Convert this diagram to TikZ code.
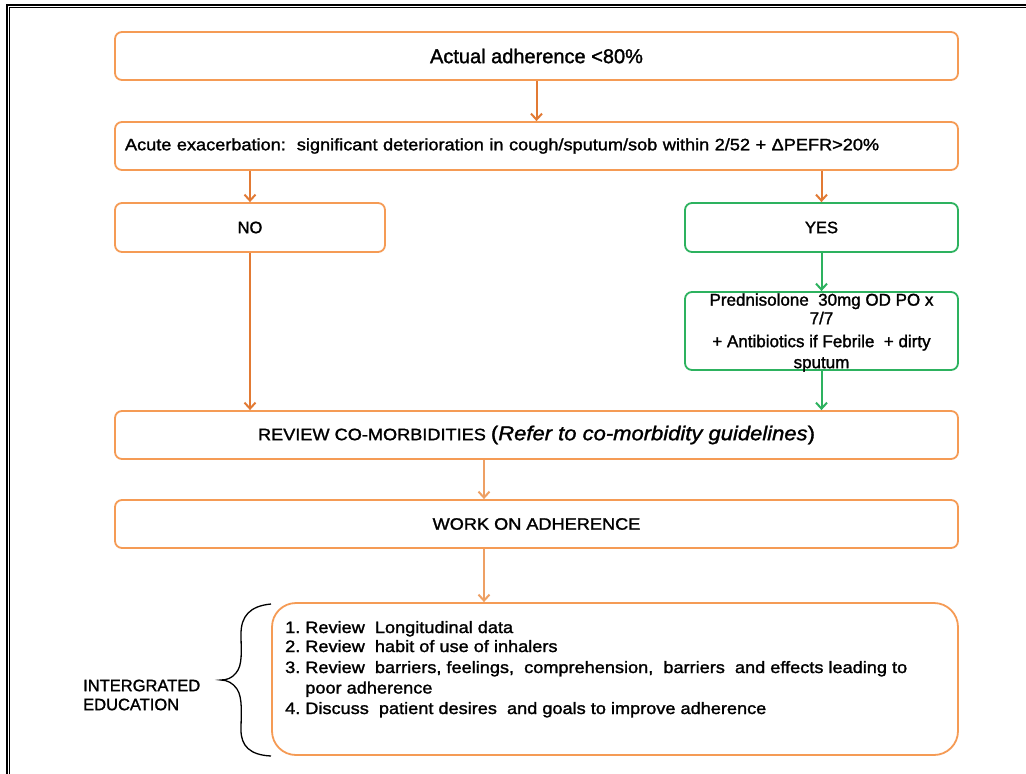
\documentclass[tikz,border=0pt]{standalone}
\usepackage{fontspec}
\setmainfont{Liberation Sans}
\newfontfamily\flowfont{Liberation Sans}[FakeBold=1.5]
\newfontfamily\flowwide{Liberation Sans}[FakeBold=1.5,FakeStretch=1.1]
\usetikzlibrary{arrows.meta}
\definecolor{boxorange}{RGB}{245,155,85}
\definecolor{arroworange}{RGB}{226,122,52}
\definecolor{lightarrow}{RGB}{238,160,100}
\definecolor{flowgreen}{RGB}{45,178,95}
\tikzset{
  x=1pt, y=-1pt,
  obox/.style={draw=boxorange, line width=1.8pt, rounded corners=7pt, fill=white,
    inner sep=0pt, font=\flowfont\fontsize{16.5}{19}\selectfont},
  gbox/.style={obox, draw=flowgreen},
  oarrow/.style={draw=arroworange, line width=2pt, -{Straight Barb[length=6pt,width=11pt]}},
  larrow/.style={oarrow, draw=lightarrow},
  garrow/.style={oarrow, draw=flowgreen},
  bodytext/.style={inner sep=0pt, font=\flowfont\fontsize{16.5}{19}\selectfont}
}
\begin{document}
\begin{tikzpicture}
\useasboundingbox (0,0) rectangle (1026,774);
\fill[white] (0,0) rectangle (1026,774);

% double frame along the top and left edges
\draw[line width=2.4pt] (7,774) -- (7,5) -- (1026,5);
\draw[line width=1pt] (9.8,774) -- (9.8,7.8) -- (1026,7.8);

% boxes
\node[obox, minimum width=843, minimum height=48, font=\flowfont\fontsize{20}{24}\selectfont] (b1) at (536.5,56) {Actual adherence <80\%};
\node[obox, minimum width=843, minimum height=48, text width=823, align=left, inner sep=10pt,
  font=\flowwide\fontsize{16.5}{19}\selectfont] (b2) at (536.5,146)
  {Acute exacerbation:\ \ significant deterioration in cough/sputum/sob within 2/52 + ΔPEFR>20\%};
\node[obox, minimum width=270, minimum height=49] (no) at (250,227.5) {NO};
\node[gbox, minimum width=273, minimum height=49] (yes) at (821.5,227.5) {YES};
\node[gbox, minimum width=273, minimum height=78] (pred) at (821.5,331) {};
\node[bodytext, align=center, font=\flowfont\fontsize{17}{18.5}\selectfont] (predtxt) at (821.5,332.5)
  {Prednisolone\ \ 30mg OD PO x\\7/7\\[4.5pt]+ Antibiotics if Febrile\ \ + dirty\\[2.5pt]sputum};
\node[obox, minimum width=843, minimum height=48, font=\flowwide\fontsize{16.5}{19}\selectfont] (rev) at (536.5,435)
  {REVIEW CO-MORBIDITIES {\fontsize{20}{24}\selectfont(\textit{Refer to co-morbidity guidelines})}};
\node[obox, minimum width=843, minimum height=48, font=\flowwide\fontsize{16.5}{19}\selectfont] (work) at (536.5,524) {WORK ON ADHERENCE};
\node[obox, minimum width=686, minimum height=152, rounded corners=24pt] (edu) at (615,679) {};
\node[bodytext, anchor=north west, font=\flowwide\fontsize{16.5}{19}\selectfont] (edutxt) at (285,619.5)
  {\begin{tabular}{@{}l@{\hspace{5pt}}l@{}}
   1. & Review\ \ Longitudinal data\\
   2. & Review\ \ habit of use of inhalers\\[2pt]
   3. & Review\ \ barriers,\ feelings,\ \ comprehension,\ \ barriers\ \ and effects leading to\\[1.5pt]
      & poor adherence\\[1.5pt]
   4. & Discuss\ \ patient desires\ \ and goals to improve adherence
   \end{tabular}};
\node[bodytext, align=left, anchor=west] (intedu) at (83,695) {INTERGRATED\\EDUCATION};

% spine for the lower arrows
\coordinate (spine) at (484,0);

% connectors
\draw[oarrow] (b1.south) -- (b2.north);
\draw[oarrow] (b2.south -| no.north) -- (no.north);
\draw[oarrow] (b2.south -| yes.north) -- (yes.north);
\draw[garrow] (yes.south) -- (pred.north);
\draw[garrow] (pred.south) -- (pred.south |- rev.north);
\draw[oarrow] (no.south) -- (no.south |- rev.north);
\draw[larrow] (rev.south -| spine) -- (work.north -| spine);
\draw[larrow] (work.south -| spine) -- (edu.north -| spine);

% curly brace grouping the education steps
\draw[line width=1.3pt] (271,604) .. controls (250,606) and (241,616) .. (241,634)
  .. controls (241,650) and (243,665) .. (236,673)
  .. controls (232,678) and (227,680) .. (221,680)
  .. controls (227,680) and (233,683) .. (237,689)
  .. controls (243,698) and (241,715) .. (241,730)
  .. controls (241,746) and (250,755) .. (271,756);
\end{tikzpicture}
\end{document}
